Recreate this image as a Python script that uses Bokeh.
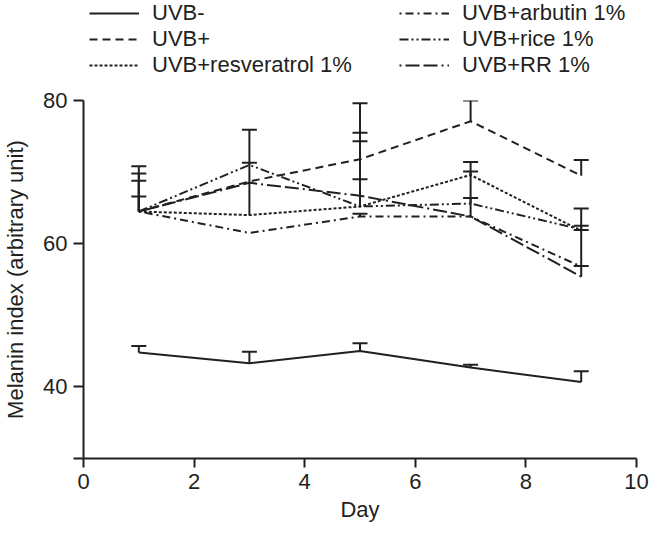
from bokeh.plotting import figure
from bokeh.layouts import column
from bokeh.models import (ColumnDataSource, Whisker, TeeHead, Legend, LegendItem,
                          FixedTicker, Range1d)
from bokeh.embed import file_html
from bokeh.resources import INLINE

# ---- data ----
days = [1, 3, 5, 7, 9]
series_names = ["UVB-", "UVB+", "UVB+resveratrol 1%", "UVB+arbutin 1%", "UVB+rice 1%", "UVB+RR 1%"]
uvb_minus = [44.8, 43.3, 45.0, 42.7, 40.7]
uvb_minus_sd = [0.9, 1.6, 1.1, 0.4, 1.5]
uvb_plus = [64.5, 68.7, 71.8, 77.1, 69.5]
uvb_plus_sd = [6.3, 0.0, 7.8, 2.9, 2.2]
resveratrol = [64.5, 64.0, 65.2, 69.6, 61.8]
resveratrol_sd = [5.3, 11.9, 10.3, 1.8, 3.1]
arbutin = [64.5, 61.5, 63.8, 63.8, 56.8]
arbutin_sd = [0.0, 0.0, 0.4, 0.0, 5.1]
rice = [64.5, 71.0, 65.2, 65.6, 62.0]
rice_sd = [4.3, 0.3, 9.1, 4.5, 0.5]
rr = [64.5, 68.5, 66.7, 63.8, 55.4]
rr_sd = [2.1, 0.0, 2.3, 2.6, 1.5]
x_ticks = [0, 2, 4, 6, 8, 10]
y_ticks = [30, 40, 60, 80]

values = [uvb_minus, uvb_plus, resveratrol, arbutin, rice, rr]
sds = [uvb_minus_sd, uvb_plus_sd, resveratrol_sd, arbutin_sd, rice_sd, rr_sd]
dashes = ["solid", "8 5", "3 2", "2 4 8 4", "9 3 2 3 2 3", "2 4 14 4 14 4"]

INK = "#231f20"
FONT = "Liberation Sans"
LEG_H = 88

# ---- legend strip (series lines drawn out of view, only the legend shows) ----
pl = figure(width=649, height=LEG_H, output_backend="svg", toolbar_location=None,
            x_range=Range1d(100, 101), y_range=Range1d(0, 1),
            x_axis_type=None, y_axis_type=None, min_border=0)
pl.outline_line_color = None
pl.xgrid.visible = False
pl.ygrid.visible = False
leg_renderers = [pl.line(days, vals, line_color=INK, line_width=2, line_dash=d)
                 for vals, d in zip(values, dashes)]

def make_legend(idx, loc):
    items = [LegendItem(label=series_names[i], renderers=[leg_renderers[i]]) for i in idx]
    lg = Legend(items=items, location=loc, orientation="vertical",
                glyph_width=50, glyph_height=20, label_height=20, label_standoff=13,
                spacing=0, padding=0, margin=0, border_line_color=None,
                background_fill_alpha=0, label_text_font=FONT,
                label_text_font_size="22px", label_text_color=INK)
    pl.add_layout(lg, "center")

make_legend([0, 1, 2], (6, LEG_H - 78))
make_legend([3, 4, 5], (316, LEG_H - 78))

# ---- main chart ----
p = figure(width=649, height=524 - LEG_H, output_backend="svg", toolbar_location=None,
           x_range=Range1d(0, 10), y_range=Range1d(30, 80),
           min_border_left=78, min_border_right=13, min_border_top=12, min_border_bottom=66)
p.outline_line_color = None
p.xgrid.visible = False
p.ygrid.visible = False
p.background_fill_color = "white"

for ax in (p.xaxis[0], p.yaxis[0]):
    ax.axis_line_color = INK
    ax.axis_line_width = 2
    ax.major_tick_line_color = INK
    ax.major_tick_line_width = 2
    ax.major_tick_in = 0
    ax.minor_tick_line_color = None
    ax.major_label_text_font = FONT
    ax.major_label_text_font_size = "22px"
    ax.major_label_text_color = INK
    ax.axis_label_text_font = FONT
    ax.axis_label_text_font_size = "22px"
    ax.axis_label_text_font_style = "normal"
    ax.axis_label_text_color = INK

p.xaxis.ticker = FixedTicker(ticks=x_ticks)
p.xaxis.major_tick_out = 9
p.xaxis.major_label_standoff = 6
p.xaxis.axis_label = "Day"
p.xaxis.axis_label_standoff = 5

p.yaxis.ticker = FixedTicker(ticks=y_ticks)
p.yaxis.major_label_overrides = {30: ""}
p.yaxis.major_tick_out = 10
p.yaxis.major_label_standoff = 6
p.yaxis.axis_label = "Melanin index (arbitrary unit)"
p.yaxis.axis_label_standoff = 12

for name, vals, sd, dash in zip(series_names, values, sds, dashes):
    p.line(days, vals, line_color=INK, line_width=2, line_dash=dash)
    bx, by, bt = [], [], []
    for d, v, s in zip(days, vals, sd):
        if s > 0:
            bx.append(d); by.append(v); bt.append(v + s)
    src = ColumnDataSource(dict(x=bx, y=by, top=bt))
    w = Whisker(source=src, base="x", lower="y", upper="top", dimension="height",
                line_color=INK, line_width=2, lower_head=None,
                upper_head=TeeHead(size=15, line_color=INK, line_width=2))
    p.add_layout(w)

layout = column(pl, p, spacing=0)
open("out.html", "w").write(file_html(layout, INLINE))
